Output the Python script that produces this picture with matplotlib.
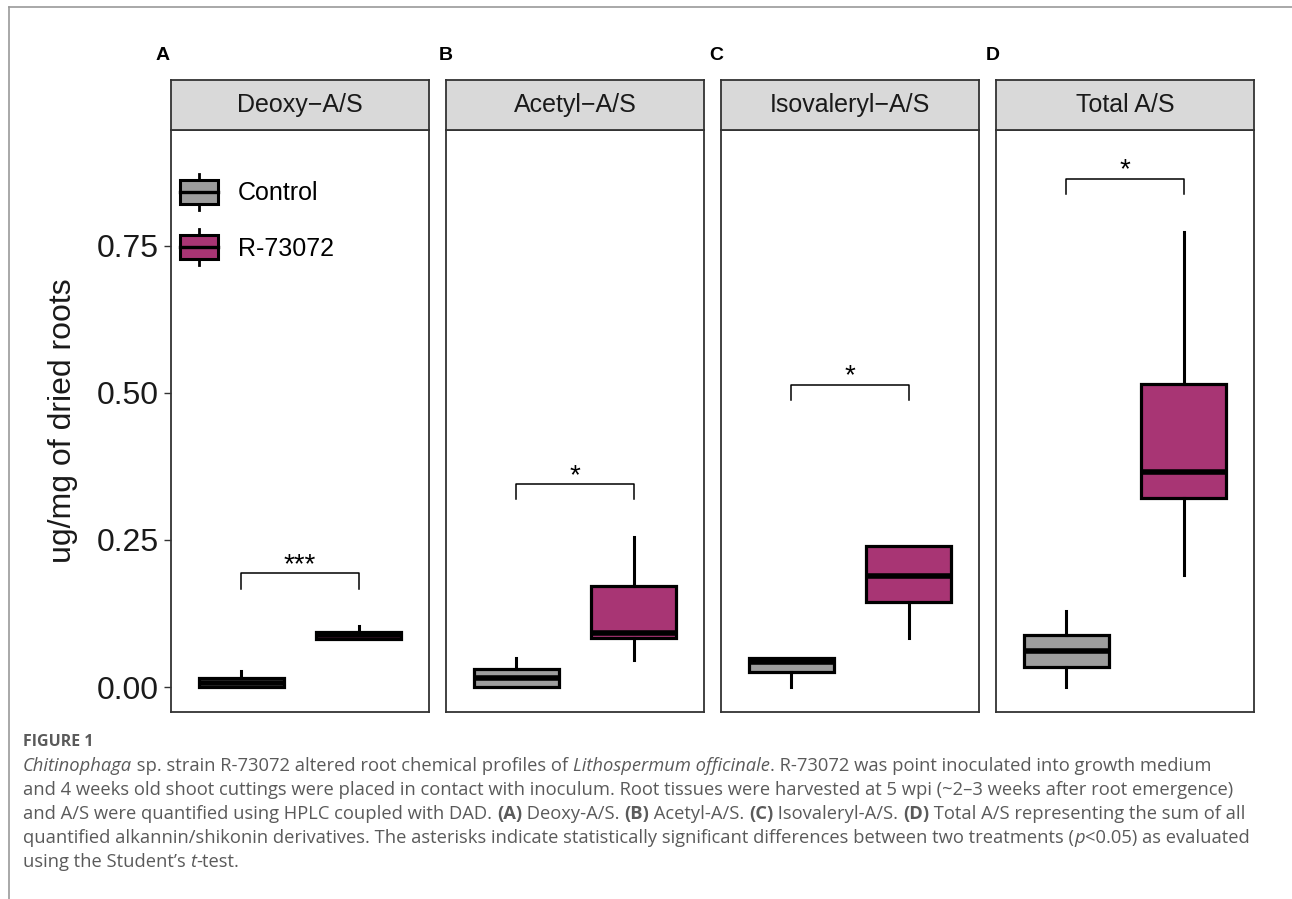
import matplotlib
matplotlib.use("Agg")
import matplotlib.pyplot as plt
from matplotlib.patches import Rectangle
from matplotlib.lines import Line2D
from matplotlib.legend_handler import HandlerBase

plt.rcParams['font.family'] = ['Liberation Sans', 'DejaVu Sans']

# A/S content per panel (ug/mg of dried roots), box statistics
panels = ["Deoxy\u2212A/S", "Acetyl\u2212A/S", "Isovaleryl\u2212A/S", "Total A/S"]
letters = ["A", "B", "C", "D"]
groups = ["Control", "R-73072"]

ctrl_low = [0.000, 0.000, 0.000, 0.000]
ctrl_q1 = [0.000, 0.000, 0.025, 0.034]
ctrl_med = [0.007, 0.015, 0.043, 0.061]
ctrl_q3 = [0.015, 0.031, 0.049, 0.088]
ctrl_high = [0.027, 0.049, 0.049, 0.129]

r_low = [0.081, 0.046, 0.083, 0.191]
r_q1 = [0.082, 0.083, 0.144, 0.321]
r_med = [0.088, 0.091, 0.188, 0.366]
r_q3 = [0.094, 0.172, 0.239, 0.516]
r_high = [0.103, 0.255, 0.239, 0.774]

sig_labels = ["***", "*", "*", "*"]
sig_y = [0.193, 0.345, 0.514, 0.864]
tip = 0.026

yticks = [0.0, 0.25, 0.50, 0.75]

colors = ["#9d9d9d", "#a83574"]

W, H = 1292, 899
fig = plt.figure(figsize=(W / 100, H / 100), dpi=100)


def px(left, top, w, h):
    return [left / W, 1 - (top + h) / H, w / W, h / H]


# page frame (top and left rule)
fig.add_artist(Line2D([9 / W, 9 / W], [0, 1 - 7 / H], transform=fig.transFigure,
                      color="#9a9a9a", lw=1.2))
fig.add_artist(Line2D([9 / W, 1], [1 - 7 / H, 1 - 7 / H], transform=fig.transFigure,
                      color="#9a9a9a", lw=1.2))


class BoxKey(HandlerBase):
    def create_artists(self, legend, orig, xd, yd, w, h, fs, trans):
        cx = -xd + w / 2
        y0 = -yd
        box = Rectangle((-xd, y0), w, h, facecolor=orig.get_facecolor(),
                        edgecolor="black", lw=2.2, transform=trans)
        med = Line2D([-xd, -xd + w], [y0 + h / 2] * 2, color="black", lw=2.4, transform=trans)
        wlo = Line2D([cx, cx], [y0 - 0.27 * h, y0], color="black", lw=2.0, transform=trans)
        whi = Line2D([cx, cx], [y0 + h, y0 + 1.27 * h], color="black", lw=2.0, transform=trans)
        return [wlo, whi, box, med]


letter_x = [163, 446, 716, 993]
axes = []
for i, name in enumerate(panels):
    left = 171 + i * 275
    ax = fig.add_axes(px(left, 130, 258, 582))
    stats = [
        dict(whislo=ctrl_low[i], q1=ctrl_q1[i], med=ctrl_med[i], q3=ctrl_q3[i],
             whishi=ctrl_high[i], fliers=[]),
        dict(whislo=r_low[i], q1=r_q1[i], med=r_med[i], q3=r_q3[i],
             whishi=r_high[i], fliers=[]),
    ]
    bp = ax.bxp(stats, positions=[1, 2], widths=0.73, patch_artist=True, showcaps=False,
                boxprops=dict(lw=2.3, edgecolor="black"),
                medianprops=dict(color="black", lw=4.0, solid_capstyle="butt"),
                whiskerprops=dict(color="black", lw=2.2))
    for patch, c in zip(bp["boxes"], colors):
        patch.set_facecolor(c)

    # significance bracket
    y = sig_y[i]
    ax.plot([1, 1, 2, 2], [y - tip, y, y, y - tip], color="black", lw=1.1)
    ax.text(1.5, y + 0.002, sig_labels[i], ha="center", va="baseline", fontsize=20)

    ax.set_xlim(0.4, 2.6)
    ax.set_ylim(-0.0425, 0.947)
    ax.set_xticks([])
    for s in ax.spines.values():
        s.set_color("#333333")
        s.set_linewidth(1.3)
    if i == 0:
        ax.set_yticks(yticks)
        ax.set_yticklabels([f"{v:.2f}" for v in yticks])
        ax.tick_params(axis="y", labelsize=23, length=5, width=1.0, color="#333333",
                       labelcolor="#1a1a1a", pad=4)
    else:
        ax.set_yticks([])

    # facet strip
    sx = fig.add_axes(px(left, 80, 258, 50))
    sx.set_facecolor("#d9d9d9")
    sx.set_xticks([])
    sx.set_yticks([])
    for s in sx.spines.values():
        s.set_color("#333333")
        s.set_linewidth(1.3)
    sx.text(0.5, 0.5, name, ha="center", va="center", fontsize=18, color="#1a1a1a",
            transform=sx.transAxes)

    fig.text(letter_x[i] / W, 1 - 55 / H, letters[i], ha="center", va="center",
             fontsize=14, fontweight="bold")
    axes.append(ax)

fig.text(63 / W, 1 - 421 / H, "ug/mg of dried roots", rotation=90, ha="center",
         va="center", fontsize=23, color="#1a1a1a")

handles = [Rectangle((0, 0), 1, 1, facecolor=c) for c in colors]
leg = axes[0].legend(handles, groups, handler_map={Rectangle: BoxKey()},
                     loc="upper left", bbox_to_anchor=(180 / W, 1 - 180 / H),
                     bbox_transform=fig.transFigure, frameon=False, fontsize=18,
                     handlelength=1.52, handleheight=1.08, handletextpad=0.8,
                     labelspacing=1.2, borderpad=0, borderaxespad=0)

# caption
CAP_FONT = ["Open Sans", "DejaVu Sans"]
CAP_COLOR = "#5a5a5a"
renderer = fig.canvas.get_renderer()


def piece_width(s, **kw):
    t = fig.text(0, 0, "x" + s + "x", **kw)
    w1 = t.get_window_extent(renderer).width
    t.remove()
    t = fig.text(0, 0, "xx", **kw)
    w2 = t.get_window_extent(renderer).width
    t.remove()
    return w1 - w2


caption = [
    [("Chitinophaga", "i"), (" sp. strain R-73072 altered root chemical profiles of ", "n"),
     ("Lithospermum officinale", "i"), (". R-73072 was point inoculated into growth medium", "n")],
    [("and 4 weeks old shoot cuttings were placed in contact with inoculum. Root tissues were "
      "harvested at 5 wpi (~2\u20133 weeks after root emergence)", "n")],
    [("and A/S were quantified using HPLC coupled with DAD. ", "n"), ("(A)", "b"),
     (" Deoxy-A/S. ", "n"), ("(B)", "b"), (" Acetyl-A/S. ", "n"), ("(C)", "b"),
     (" Isovaleryl-A/S. ", "n"), ("(D)", "b"),
     (" Total A/S representing the sum of all", "n")],
    [("quantified alkannin/shikonin derivatives. The asterisks indicate statistically "
      "significant differences between two treatments (", "n"), ("p", "i"),
     ("<0.05) as evaluated", "n")],
    [("using the Student\u2019s ", "n"), ("t", "i"), ("-test.", "n")],
]

# size the caption so the second line runs to the right margin
CAP_FS = 12.0 * 1208 / piece_width(caption[1][0][0], fontsize=12.0, family=CAP_FONT)


def rich_line(x, y, parts):
    for s, style in parts:
        kw = dict(fontsize=CAP_FS, color=CAP_COLOR, family=CAP_FONT)
        if style == "i":
            kw["style"] = "italic"
        if style == "b":
            kw["weight"] = "bold"
        fig.text(x / W, 1 - y / H, s, ha="left", va="baseline", **kw)
        x += piece_width(s, **kw)


fig.text(23 / W, 1 - 746 / H, "FIGURE 1", ha="left", va="baseline", fontsize=11.5,
         fontweight="bold", color="#5a5a5a", family=CAP_FONT)

for k, line in enumerate(caption):
    rich_line(23, 771 + 24 * k, line)

fig.savefig("out.png", dpi=100)
